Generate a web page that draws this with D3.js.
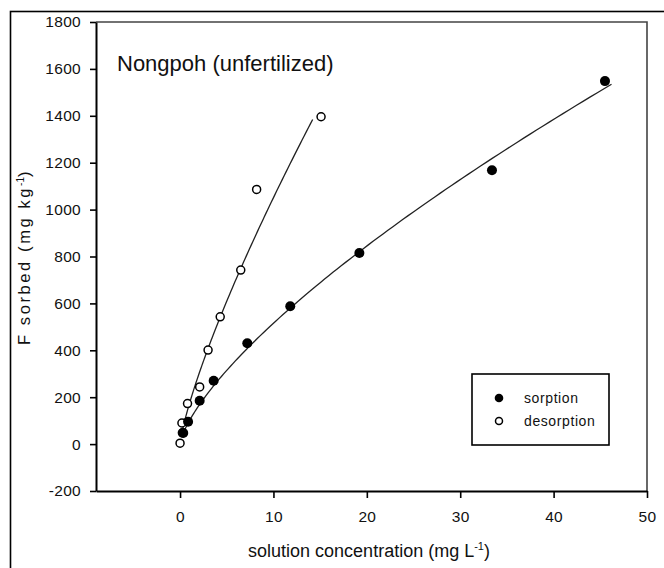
<!DOCTYPE html>
<html>
<head>
<meta charset="utf-8">
<script src="https://cdn.jsdelivr.net/npm/d3@7"></script>
<style>
  html, body { margin: 0; padding: 0; background: #fff; }
  svg { display: block; font-family: "Liberation Sans", Arial, sans-serif; }
</style>
</head>
<body>
<svg id="chart" width="664" height="568"></svg>
<script>
// Fluoride sorption / desorption isotherms, Nongpoh (unfertilized) soil
const sorptionC   = [0.34, 0.86, 2.1, 3.6, 7.2, 11.8, 19.2, 33.4, 45.5];
const sorptionQ   = [47, 95, 185, 270, 430, 588, 815, 1168, 1548];
const desorptionC = [0.0, 0.25, 0.2, 0.8, 2.1, 3.0, 4.3, 6.5, 8.2, 15.1];
const desorptionQ = [4, 48, 90, 173, 244, 401, 543, 742, 1086, 1396];

// Freundlich fits q = K * C^n, with the C span each fitted curve covers
const sorptionFit   = { K: 99.8, n: 0.713, from: 0.3, to: 46.2 };
const desorptionFit = { K: 172,  n: 0.786, from: 0.3, to: 14.2 };

const xTicks = [0, 10, 20, 30, 40, 50];
const yTicks = [-200, 0, 200, 400, 600, 800, 1000, 1200, 1400, 1600, 1800];
const xDomain = [-9, 50];
const yDomain = [-200, 1800];
const legendLabels = ["sorption", "desorption"];

const svg = d3.select("#chart");
const plotL = 96, plotR = 647, plotT = 22, plotB = 491;

const x = d3.scaleLinear().domain(xDomain).range([plotL, plotR]);
const y = d3.scaleLinear().domain(yDomain).range([plotB, plotT]);
const plain = d => String(d);

// outer frame
svg.append("rect")
  .attr("x", 10.5).attr("y", 11.5).attr("width", 700).attr("height", 600)
  .attr("fill", "none").attr("stroke", "#000").attr("stroke-width", 1.6);

// top and right edges of the plot box
svg.append("path")
  .attr("d", `M${plotL},${plotT}H${plotR}V${plotB}`)
  .attr("fill", "none").attr("stroke", "#444").attr("stroke-width", 1.6);

// axes
const xAxis = svg.append("g")
  .attr("transform", `translate(0,${plotB})`)
  .call(d3.axisBottom(x).tickValues(xTicks).tickFormat(plain)
    .tickSize(7).tickSizeOuter(0).tickPadding(13));
const yAxis = svg.append("g")
  .attr("transform", `translate(${plotL},0)`)
  .call(d3.axisLeft(y).tickValues(yTicks).tickFormat(plain)
    .tickSize(6).tickSizeOuter(0).tickPadding(9));

[xAxis, yAxis].forEach(g => {
  g.select(".domain").attr("stroke", "#000").attr("stroke-width", 2);
  g.selectAll(".tick line").attr("stroke", "#000").attr("stroke-width", 1.6);
  g.selectAll(".tick text")
    .attr("fill", "#111")
    .style("font-size", "15.5px")
    .style("letter-spacing", "0.3px")
    .style("font-family", "'Liberation Sans', Arial, sans-serif");
});

// fitted curves
function fitPoints(f) {
  const steps = 120;
  return d3.range(steps + 1).map(i => {
    const c = f.from + (f.to - f.from) * Math.pow(i / steps, 2);
    return [c, f.K * Math.pow(c, f.n)];
  });
}
const line = d3.line().x(d => x(d[0])).y(d => y(d[1]));
[sorptionFit, desorptionFit].forEach(f => {
  svg.append("path")
    .attr("d", line(fitPoints(f)))
    .attr("fill", "none")
    .attr("stroke", "#222")
    .attr("stroke-width", 1.3);
});

// data points
const desorb = desorptionC.map((c, i) => [c, desorptionQ[i]]);
const sorb = sorptionC.map((c, i) => [c, sorptionQ[i]]);

svg.append("g").selectAll("circle").data(desorb).join("circle")
  .attr("cx", d => x(d[0])).attr("cy", d => y(d[1])).attr("r", 4)
  .attr("fill", "#fff").attr("stroke", "#000").attr("stroke-width", 1.5);

svg.append("g").selectAll("circle").data(sorb).join("circle")
  .attr("cx", d => x(d[0])).attr("cy", d => y(d[1])).attr("r", 5)
  .attr("fill", "#000");

// panel title
svg.append("text")
  .attr("x", 117).attr("y", 71)
  .attr("fill", "#111")
  .style("font-size", "22px")
  .text("Nongpoh (unfertilized)");

// axis titles
const xt = svg.append("text")
  .attr("x", 369).attr("y", 557)
  .attr("text-anchor", "middle")
  .attr("fill", "#111")
  .style("font-size", "18px");
xt.append("tspan").text("solution concentration (mg L");
xt.append("tspan").attr("dy", -7).style("font-size", "11px").text("-1");
xt.append("tspan").attr("dy", 7).text(")");

const yt = svg.append("text")
  .attr("transform", "translate(30,257) rotate(-90)")
  .attr("text-anchor", "middle")
  .attr("fill", "#111")
  .style("font-size", "16.5px")
  .style("letter-spacing", "2.6px");
yt.append("tspan").text("F sorbed (mg kg");
yt.append("tspan").attr("dy", -6).style("font-size", "10px").style("letter-spacing", "0px").text("-1");
yt.append("tspan").attr("dy", 6).text(")");

// legend
const lg = svg.append("g");
lg.append("rect")
  .attr("x", 472).attr("y", 374).attr("width", 137).attr("height", 71)
  .attr("fill", "#fff").attr("stroke", "#000").attr("stroke-width", 1.6);
lg.append("circle").attr("cx", 499).attr("cy", 398).attr("r", 4.3).attr("fill", "#000");
lg.append("circle").attr("cx", 499).attr("cy", 421).attr("r", 3.5)
  .attr("fill", "#fff").attr("stroke", "#000").attr("stroke-width", 1.5);
legendLabels.forEach((t, i) => {
  lg.append("text")
    .attr("x", 524).attr("y", 403 + i * 23)
    .attr("fill", "#111")
    .style("font-size", "14px")
    .style("letter-spacing", "0.6px")
    .text(t);
});
</script>
</body>
</html>
